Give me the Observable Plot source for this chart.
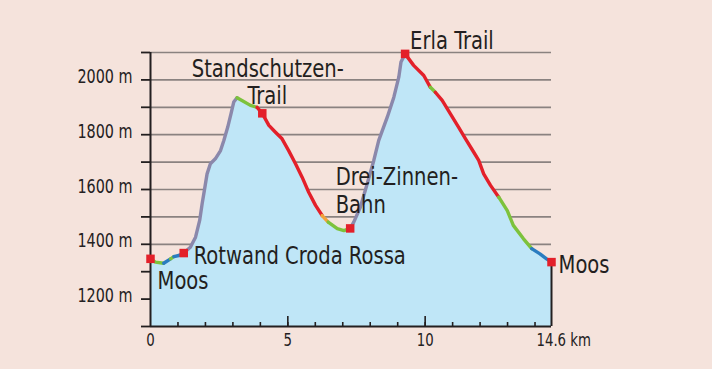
<!DOCTYPE html>
<html><head><meta charset="utf-8">
<script src="https://cdn.jsdelivr.net/npm/d3@7"></script>
<script src="https://cdn.jsdelivr.net/npm/@observablehq/plot@0.6"></script>
<style>
html,body{margin:0;padding:0;background:#f5e3dc;}
#chart svg{display:block;}
</style>
</head><body><div id="chart"></div>
<script>
// Elevation profile: distance (km), elevation (m), surface of the stretch ending at each point
const km = [0,0.18,0.48,0.73,0.85,1.03,1.21,1.45,1.64,1.79,1.88,1.96,2.06,2.18,2.36,2.55,2.67,2.81,2.93,3.03,3.15,
  3.33,3.64,3.88,4.07,4.31,4.55,4.79,5.03,5.28,5.52,5.76,6.01,6.25,6.47,6.80,7.04,7.27,
  7.40,7.64,7.89,8.13,8.31,8.62,8.86,9.04,9.12,9.27,
  9.58,9.95,10.19,10.37,10.62,10.92,11.22,11.47,11.77,11.95,12.13,12.38,12.68,12.99,13.21,13.58,13.88,14.18,14.42,14.6];
const elevation = [1347,1335,1331,1347,1355,1359,1368,1389,1426,1487,1548,1596,1657,1694,1712,1742,1779,1827,1876,1919,1935,
  1925,1907,1900,1878,1834,1809,1785,1742,1694,1645,1590,1542,1505,1481,1457,1450,1458,
  1481,1535,1621,1706,1779,1864,1937,2010,2065,2095,
  2053,2016,1973,1955,1925,1876,1827,1785,1736,1706,1657,1615,1572,1523,1469,1420,1384,1365,1347,1335];
const surface = ["asphalt","gravel","gravel","asphalt","gravel","asphalt","asphalt","lift","lift","lift","lift","lift","lift","lift","lift","lift","lift","lift","lift","lift","lift",
  "gravel","gravel","gravel","trail","trail","trail","trail","trail","trail","trail","trail","trail","trail","path","gravel","gravel","gravel",
  "lift","lift","lift","lift","lift","lift","lift","lift","lift","lift",
  "trail","trail","trail","gravel","trail","trail","trail","trail","trail","trail","trail","trail","trail","gravel","gravel","gravel","gravel","asphalt","asphalt","asphalt"];
const surfaceColors = {lift:"#8b88ab", trail:"#e3202a", gravel:"#7dc23c", asphalt:"#2a7cc0", path:"#f2a23a"};

// Waypoints (red markers) and their names
const stopKm = [0, 1.21, 4.07, 7.27, 9.27, 14.6];
const stopElev = [1347, 1368, 1878, 1458, 2095, 1335];
const stopNames = ["Moos", "Rotwand Croda Rossa", "Standschutzen-\nTrail", "Drei-Zinnen-\nBahn", "Erla Trail", "Moos"];

// Axes
const xDomain = [0, 14.6];
const yDomain = [1100, 2100];
const yTicks = d3.range(1100, 2101, 100);
const yLabels = [1200, 1400, 1600, 1800, 2000];
const xMinorTicks = d3.range(1, 15);
const xMajorTicks = [5, 10];
const xLabels = [0, 5, 10];
const xEndLabel = [14.6];

const profile = km.map((k, i) => ({km: k, elev: elevation[i]}));
const segments = [];
let segId = -1, prev = null;
for (let i = 1; i < profile.length; i++) {
  if (surface[i] !== prev) { segId++; prev = surface[i]; segments.push({...profile[i - 1], seg: segId, surface: surface[i]}); }
  segments.push({...profile[i], seg: segId, surface: surface[i]});
}
const stops = stopKm.map((k, i) => ({km: k, elev: stopElev[i], lines: stopNames[i].split("\n")}));

const FONT = "'DejaVu Sans Condensed', 'DejaVu Sans', sans-serif";
const ink = "#231f20";
const label = (i, line, o) => Plot.text([stops[i]], {x: "km", y: "elev", text: d => d.lines[line], fontFamily: FONT, fontSize: 25, fill: ink, lineAnchor: "bottom", textAnchor: "start", className: "anno", ...o});

const chart = Plot.plot({
  width: 712, height: 369,
  marginLeft: 150, marginRight: 161, marginTop: 52, marginBottom: 43,
  style: {background: "transparent", fontFamily: FONT, overflow: "visible"},
  x: {domain: xDomain},
  y: {domain: yDomain},
  color: {type: "identity"},
  marks: [
    Plot.gridY({ticks: yTicks.slice(1), stroke: "#8a8280", strokeOpacity: 1, strokeWidth: 1.7}),
    Plot.areaY(profile, {x: "km", y1: yDomain[0], y2: "elev", fill: "#bfe6f7"}),
    Plot.line(segments, {x: "km", y: "elev", z: "seg", stroke: d => surfaceColors[d.surface], strokeWidth: 3.4, strokeLinejoin: "round"}),
    Plot.ruleX([xDomain[0]], {y1: yDomain[0], y2: yDomain[1], stroke: ink, strokeWidth: 2}),
    Plot.ruleY([yDomain[0]], {x1: xDomain[0], x2: xDomain[1], stroke: ink, strokeWidth: 2}),
    Plot.ruleX([stops[stops.length - 1]], {x: "km", y1: yDomain[0], y2: "elev", stroke: ink, strokeWidth: 2}),
    Plot.axisY({ticks: yTicks, tickSize: 9, tickFormat: () => "", label: null, strokeWidth: 1.8, stroke: ink}),
    Plot.axisY({ticks: yLabels, tickSize: 0, tickPadding: 18, tickFormat: d => `${d} m`, label: null, fontSize: 19, dy: -3, fill: "#242122", className: "ylab"}),
    Plot.axisX({ticks: xMinorTicks, tickSize: -4, tickFormat: () => "", label: null, strokeWidth: 1.6, stroke: ink}),
    Plot.axisX({ticks: xMajorTicks, tickSize: -10, tickFormat: () => "", label: null, strokeWidth: 1.6, stroke: ink}),
    Plot.axisX({ticks: xLabels, tickSize: 0, tickPadding: 7, label: null, fontSize: 18, fill: "#242122", className: "xlab"}),
    Plot.axisX({ticks: xEndLabel, tickSize: 0, tickPadding: 7, tickFormat: d => `${d} km`, label: null, fontSize: 18, fill: "#242122", textAnchor: "start", dx: -15, className: "xlab"}),
    Plot.dot(stops, {x: "km", y: "elev", symbol: "square", r: 4.8, fill: "#e3202a"}),
    label(0, 0, {dx: 7, dy: 30}),
    label(1, 0, {dx: 10, dy: 10.5}),
    label(2, 0, {textAnchor: "middle", dx: 5.5, dy: -36.5}),
    label(2, 1, {textAnchor: "middle", dx: 5, dy: -9.5}),
    label(3, 0, {dx: -14.5, dy: -43}),
    label(3, 1, {dx: -14.5, dy: -15}),
    label(4, 0, {dx: 5, dy: -5}),
    label(5, 0, {dx: 7, dy: 11})
  ]
});
document.getElementById("chart").appendChild(chart);

// Narrow the lettering to the condensed face of the original
function condense(selector, factor) {
  chart.querySelectorAll(selector).forEach(t => {
    if (!t.textContent) return;
    const w = t.getComputedTextLength();
    t.setAttribute("textLength", (w * factor).toFixed(1));
    t.setAttribute("lengthAdjust", "spacingAndGlyphs");
  });
}
condense(".anno text", 0.87);
condense(".ylab text", 0.84);
condense(".xlab text", 0.82);
</script>
</body></html>
